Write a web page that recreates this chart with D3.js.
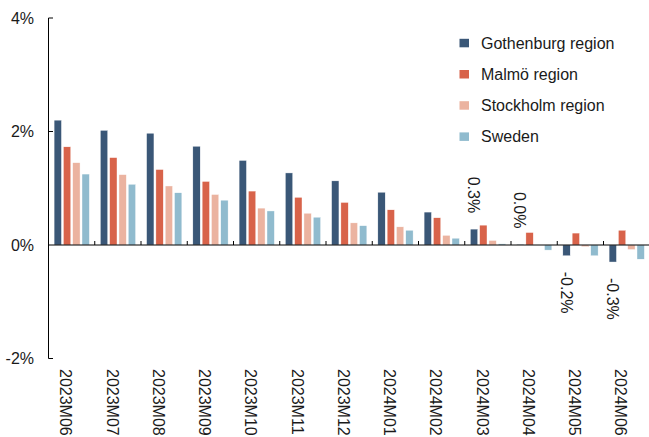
<!DOCTYPE html>
<html>
<head>
<meta charset="utf-8">
<script src="https://cdn.jsdelivr.net/npm/d3@7"></script>
<style>
  html, body { margin: 0; padding: 0; background: #fff; }
  svg { display: block; }
  text { font-family: "Liberation Sans", Arial, sans-serif; fill: #1a1a1a; }
</style>
</head>
<body>
<svg id="chart" width="649" height="437"></svg>
<script>
// Monthly change, per region
const months = ["2023M06", "2023M07", "2023M08", "2023M09", "2023M10", "2023M11", "2023M12",
                "2024M01", "2024M02", "2024M03", "2024M04", "2024M05", "2024M06"];
const seriesNames = ["Gothenburg region", "Malmö region", "Stockholm region", "Sweden"];
const gothenburg = [2.20, 2.02, 1.97, 1.74, 1.49, 1.27, 1.13, 0.93, 0.58, 0.28, 0.01, -0.19, -0.30];
const malmo      = [1.73, 1.54, 1.33, 1.12, 0.95, 0.84, 0.75, 0.62, 0.48, 0.35, 0.22, 0.21, 0.26];
const stockholm  = [1.45, 1.24, 1.04, 0.89, 0.65, 0.56, 0.39, 0.32, 0.17, 0.08, 0.00, -0.03, -0.08];
const sweden     = [1.25, 1.07, 0.92, 0.79, 0.60, 0.49, 0.34, 0.26, 0.12, 0.02, -0.09, -0.19, -0.25];
const yTicks = [-2, 0, 2, 4];
// months whose Gothenburg bar carries a value label
const labelledMonths = ["2024M03", "2024M04", "2024M05", "2024M06"];

const colors = ["#3a5777", "#d8634a", "#ebb3a0", "#90bbce"];
const seriesValues = [gothenburg, malmo, stockholm, sweden];

const svg = d3.select("#chart");
const fmtLocale = d3.formatLocale({decimal: ".", thousands: ",", grouping: [3], currency: ["", ""], minus: "-"});
const fmt1 = fmtLocale.format(".1f");

const x0 = d3.scaleBand().domain(months).range([48.5, 649.75]).paddingInner(0).paddingOuter(0);
const x1 = d3.scaleBand().domain(d3.range(seriesNames.length))
  .range([5.6, x0.bandwidth() - 5.4]).paddingInner(0.21).paddingOuter(0);
const y = d3.scaleLinear().domain([-2, 4]).range([358.5, 18]);

// bars
const groups = svg.append("g").selectAll("g")
  .data(months)
  .join("g")
  .attr("transform", d => `translate(${x0(d)},0)`);

groups.selectAll("rect")
  .data((m, i) => seriesValues.map((vals, s) => ({s, v: vals[i], m})))
  .join("rect")
  .attr("x", d => x1(d.s))
  .attr("width", x1.bandwidth())
  .attr("y", d => y(Math.max(0, d.v)))
  .attr("height", d => Math.abs(y(d.v) - y(0)))
  .attr("fill", d => colors[d.s])
  .attr("stroke", "#fff")
  .attr("stroke-width", 0.4);

// value labels on selected Gothenburg bars (rotated)
const lab = svg.append("g");
months.forEach((m, i) => {
  if (!labelledMonths.includes(m)) return;
  const v = gothenburg[i];
  const cx = x0(m) + x1(0) + x1.bandwidth() / 2;
  const yy = v >= 0 ? y(v) - 16 : y(v) + 16;
  lab.append("text")
    .attr("transform", `translate(${cx - 5.8},${yy}) rotate(90)`)
    .attr("text-anchor", v >= 0 ? "end" : "start")
    .attr("font-size", 16)
    .text(fmt1(v) + "%");
});

// y axis
const yAxis = svg.append("g");
yAxis.append("line")
  .attr("x1", 48.5).attr("x2", 48.5)
  .attr("y1", y(4)).attr("y2", y(-2))
  .attr("stroke", "#000").attr("stroke-width", 1);
yAxis.selectAll(".tick")
  .data(yTicks)
  .join("g")
  .each(function(d) {
    const g = d3.select(this);
    if (d !== 0) {
      g.append("line")
        .attr("x1", 48.5).attr("x2", 53)
        .attr("y1", y(d)).attr("y2", y(d))
        .attr("stroke", "#000").attr("stroke-width", 1);
    }
    g.append("text")
      .attr("x", 34)
      .attr("y", y(d) + 5.7)
      .attr("text-anchor", "end")
      .attr("font-size", 16)
      .text(d + "%");
  });

// category axis along zero line
const xAxis = svg.append("g");
xAxis.append("line")
  .attr("x1", 48).attr("x2", 649)
  .attr("y1", y(0)).attr("y2", y(0))
  .attr("stroke", "#000").attr("stroke-width", 1);
xAxis.selectAll(".tick")
  .data(months.slice(1))
  .join("line")
  .attr("x1", d => x0(d)).attr("x2", d => x0(d))
  .attr("y1", y(0) - 4).attr("y2", y(0))
  .attr("stroke", "#000").attr("stroke-width", 1);
xAxis.selectAll(".lbl")
  .data(months)
  .join("text")
  .attr("transform", d => `translate(${x0(d) + x0.bandwidth() / 2 - 11.2},369) rotate(90)`)
  .attr("text-anchor", "start")
  .attr("font-size", 16)
  .text(d => d);

// legend
const legend = svg.append("g");
seriesNames.forEach((name, i) => {
  const cy = 43 + i * 31.2;
  legend.append("rect")
    .attr("x", 459.5).attr("y", cy - 4.2)
    .attr("width", 9.5).attr("height", 8.5)
    .attr("fill", colors[i]);
  legend.append("text")
    .attr("x", 481).attr("y", cy + 5.7)
    .attr("font-size", 16)
    .text(name);
});
</script>
</body>
</html>
